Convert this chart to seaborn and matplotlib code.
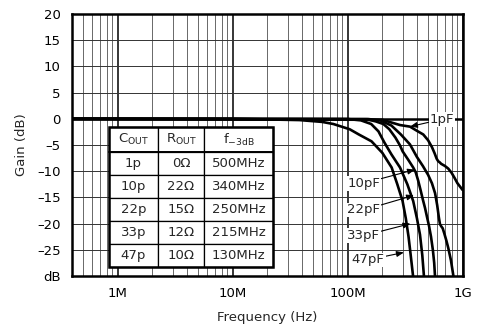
import numpy as np
import pandas as pd
import seaborn as sns
import matplotlib
matplotlib.use("Agg")
import matplotlib.pyplot as plt
from matplotlib.ticker import LogLocator, NullFormatter
from matplotlib.patches import Rectangle

# curve data, frequency in MHz, gain in dB
freq_1p = [0.4, 200, 285, 348, 400, 454, 500, 540, 570, 593, 612, 630, 650, 700, 748, 800, 850, 900, 960, 1000]
gain_1p = [0, -0.2, -1.2, -1.5, -2.3, -3.0, -4.1, -5.4, -6.6, -7.6, -8.1, -8.3, -8.6, -9.0, -9.5, -10.3, -11.3, -12.3, -13.1, -13.6]

freq_10p = [0.4, 150, 191, 240, 290, 348, 400, 450, 500, 540, 575, 600, 620, 634, 650, 670, 690, 720, 748, 790, 830]
gain_10p = [0, -0.05, -0.3, -1.3, -3.0, -4.9, -7.3, -9.0, -10.7, -12.3, -14.2, -16.5, -18.8, -20.1, -20.5, -20.9, -21.8, -23.2, -24.6, -27, -30]

freq_22p = [0.4, 146, 175, 204, 230, 260, 285, 300, 340, 371, 390, 410, 430, 450, 470, 490, 510, 530, 550, 565, 574]
gain_22p = [0, -0.1, -0.5, -1.0, -2.0, -3.6, -5.1, -6.2, -8.0, -9.3, -10.2, -11.8, -13.6, -15.4, -17.0, -18.8, -20.5, -22.5, -25.0, -27.5, -30]

freq_33p = [0.4, 100, 130, 160, 185, 208, 240, 285, 330, 371, 400, 425, 445, 460]
gain_33p = [0, -0.05, -0.3, -1.0, -2.4, -4.5, -6.8, -9.3, -12.5, -15.7, -19, -22.1, -26, -30]

freq_47p = [0.4, 10, 38, 60, 75, 104, 125, 161, 200, 241, 270, 300, 320, 338, 352, 370]
gain_47p = [0, 0, -0.25, -0.6, -1.0, -2.0, -3.0, -4.3, -6.5, -9.3, -12.5, -15.7, -19, -22.5, -25.8, -30]

caps = ["1pF", "10pF", "22pF", "33pF", "47pF"]

# label positions (MHz, dB) and arrow tips
label_pos = {"1pF": (656, -0.1), "10pF": (138, -12.3), "22pF": (138, -17.4),
             "33pF": (138, -22.3), "47pF": (151, -26.9)}
label_tip = {"1pF": (348, -1.5), "10pF": (384, -9.7), "22pF": (377, -14.6),
             "33pF": (351, -20.0), "47pF": (308, -25.5)}

# table contents
col_labels = ["$\\mathregular{C_{OUT}}$", "$\\mathregular{R_{OUT}}$", "$\\mathregular{f_{-3dB}}$"]
c_out = ["1p", "10p", "22p", "33p", "47p"]
r_out = ["0Ω", "22Ω", "15Ω", "12Ω", "10Ω"]
f_3db = ["500MHz", "340MHz", "250MHz", "215MHz", "130MHz"]

xtick_vals = [1e6, 1e7, 1e8, 1e9]
xtick_labels = ["1M", "10M", "100M", "1G"]
ytick_vals = [-30, -25, -20, -15, -10, -5, 0, 5, 10, 15, 20]
ytick_labels = ["dB", "–25", "–20", "–15", "–10", "–5", "0", "5", "10", "15", "20"]

sns.set_theme(style="white")
plt.rcParams["font.family"] = ["DejaVu Sans"]
plt.rcParams["mathtext.fontset"] = "dejavusans"
fs = 9.5

fig = plt.figure(figsize=(4.83, 3.31), dpi=100)
ax = fig.add_axes([0.149, 0.166, 0.809, 0.792])

all_f = [freq_1p, freq_10p, freq_22p, freq_33p, freq_47p]
all_g = [gain_1p, gain_10p, gain_22p, gain_33p, gain_47p]
df = pd.concat([pd.DataFrame({"freq": np.array(f) * 1e6, "gain": g, "cap": c})
                for f, g, c in zip(all_f, all_g, caps)], ignore_index=True)

ax.set_xscale("log")
sns.lineplot(data=df, x="freq", y="gain", units="cap", estimator=None,
             color="black", lw=1.9, ax=ax, zorder=3)

ax.set_xlim(4e5, 1e9)
ax.set_ylim(-30, 20)

# grid
ax.xaxis.set_minor_locator(LogLocator(base=10, subs=np.arange(2, 10)))
ax.xaxis.set_minor_formatter(NullFormatter())
ax.set_xticks(xtick_vals, xtick_labels)
ax.set_yticks(ytick_vals, ytick_labels)
ax.grid(which="major", axis="x", color="black", lw=1.1)
ax.grid(which="minor", axis="x", color="0.25", lw=0.55)
ax.grid(which="major", axis="y", color="0.2", lw=0.7)
ax.axhline(0, color="black", lw=1.8, zorder=2)
ax.set_axisbelow(True)

ax.tick_params(axis="both", which="both", length=0, labelsize=fs, pad=8, colors="black")
for s in ax.spines.values():
    s.set_linewidth(1.8)
    s.set_color("black")

ax.set_xlabel("Frequency (Hz)", fontsize=fs, labelpad=8)
ax.set_ylabel("Gain (dB)", fontsize=fs, labelpad=7)

# curve labels with arrows
for c in caps:
    fx, gy = label_pos[c]
    tx, ty = label_tip[c]
    ax.annotate(c, xy=(tx * 1e6, ty), xytext=(fx * 1e6, gy), fontsize=fs,
                ha="center", va="center", zorder=4,
                bbox=dict(fc="white", ec="none", pad=0.6),
                arrowprops=dict(arrowstyle="-|>,head_length=0.45,head_width=0.18",
                                color="black", lw=0.8, shrinkA=0, shrinkB=0))

# table
cell_text = [[a, b, f] for a, b, f in zip(c_out, r_out, f_3db)]
x0, y0, w, h = 0.0947, 0.0344, 0.42, 0.534
tab = ax.table(cellText=cell_text, colLabels=col_labels, cellLoc="center",
               colWidths=[49, 46, 69], bbox=[x0, y0, w, h], zorder=5)
tab.auto_set_font_size(False)
tab.set_fontsize(fs)
for (r, cidx), cell in tab.get_celld().items():
    cell.set_edgecolor("black")
    cell.set_linewidth(0.9)
    cell.set_facecolor("white")
    cell.set_height(25 if r == 0 else 23)
ax.add_patch(Rectangle((x0, y0), w, h, transform=ax.transAxes, fill=False,
                       lw=1.8, ec="black", zorder=6))
yh = y0 + h - h * 25 / 140
ax.plot([x0, x0 + w], [yh, yh], transform=ax.transAxes, color="black", lw=1.4, zorder=6)

fig.savefig("out.png", dpi=100)
